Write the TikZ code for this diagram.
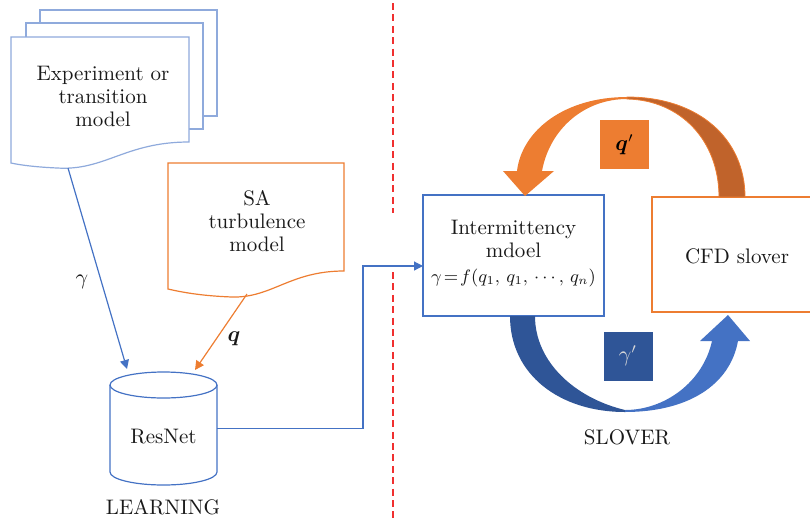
\documentclass[tikz,border=0pt]{standalone}
\usepackage{bm}
\usetikzlibrary{arrows.meta}
\definecolor{bline}{HTML}{4472C4}
\definecolor{dline}{HTML}{8FAADC}
\definecolor{oline}{HTML}{ED7D31}
\definecolor{odark}{HTML}{C0632B}
\definecolor{bdark}{HTML}{2F5597}
\definecolor{redash}{HTML}{F03030}
\tikzset{
  txt/.style={font=\fontsize{10.5}{11.5}\selectfont, align=center, text=black!90, inner sep=0pt},
  docline/.style={draw=dline, line width=0.6pt, fill=white},
  conn/.style={line width=0.6pt, -{Triangle[length=4.5pt,width=4.5pt]}},
  boxb/.style={draw=bline, line width=0.6pt, rectangle, inner sep=0pt},
  labsq/.style={rectangle, inner sep=0pt, minimum size=24.5pt, font=\fontsize{10.5}{11.5}\selectfont}
}
\begin{document}
\begin{tikzpicture}[x=0.5pt,y=-0.5pt]
\useasboundingbox (0,0) rectangle (810,526);
% separator
\draw[redash, line width=1pt, dash pattern=on 3.5pt off 2.2pt] (393,3) -- (393,213);
\draw[redash, line width=1pt, dash pattern=on 3.5pt off 2.2pt] (393,272) -- (393,522);
% document stack
\draw[docline] (40,10) rectangle (217,116);
\draw[docline] (26,23) rectangle (203,129);
\draw[docline] (11,37) -- (189,37) -- (189,142) .. controls (125,142) and (105,171) .. (57,168) .. controls (35,167) and (20,165) .. (11,163) -- cycle;
\node[txt] (exp) at (103,96) {Experiment or\\transition\\model};
\coordinate (expbot) at (68,168);
% SA document
\draw[draw=oline, line width=0.6pt] (168,163) -- (344,163) -- (344,271) .. controls (290,271) and (272,298) .. (232,297) .. controls (205,296) and (185,293) .. (168,289) -- cycle;
\node[txt] (sa) at (257,221) {SA\\turbulence\\model};
\coordinate (sabot) at (247,294);
% cylinder
\draw[bline, line width=0.6pt] (110,385) -- (110,472) arc[start angle=180, end angle=0, x radius=53.5, y radius=13] -- (217,385);
\draw[bline, line width=0.6pt] (163.5,385) ellipse[x radius=53.5, y radius=13];
\node[inner sep=0pt, minimum width=53.5pt, minimum height=56.5pt] (resnet) at (163.5,428.5) {};
\node[txt] at (163.5,437) {ResNet};
\coordinate (cyltopa) at (127,369);
\coordinate (cyltopb) at (195,370);
\node[txt] at (163,507) {LEARNING};
% arrows to cylinder
\draw[conn, bline] (expbot) -- (cyltopa);
\draw[conn, oline] (sabot) -- (cyltopb);
\node[txt] at (82,282) {$\gamma$};
\node[txt] at (234,339) {$\bm{q}$};
% intermittency box
\node[boxb, minimum width=90.5pt, minimum height=60.5pt] (imodel) at (513.5,255.5) {};
\node[txt] at (513.5,254) {Intermittency\\mdoel\\[1pt]{\small$\gamma\!=\!f(q_1,\,q_1,\,\cdots,\,q_n)$}};
\coordinate (iin) at (423,266);
\draw[conn, bline] (resnet.east) -| (363,266) -- (iin);
% CFD box
\node[rectangle, draw=oline, line width=0.6pt, minimum width=85pt, minimum height=57.5pt] (cfd) at (737,254.5) {};
\node[txt] at (737,256) {CFD slover};
% orange curved arrow
\fill[odark, draw=oline, line width=0.4pt] (627,97) .. controls (700,97) and (745,140) .. (745,197) -- (719,197) .. controls (719,140) and (680,100) .. (627,99) -- cycle;
\fill[oline] (627,97) .. controls (565,97) and (522,130) .. (517,171) -- (503,171) -- (525,196) -- (554,171) -- (542,171) .. controls (550,128) and (585,99) .. (627,99) -- cycle;
\node[labsq, fill=oline] (qp) at (624.5,144.5) {$\bm{q}'$};
% blue curved arrow
\fill[bdark] (510,316) .. controls (510,375) and (560,412) .. (625,412) -- (625,410) .. controls (575,398) and (535,362) .. (535,316) -- cycle;
\fill[bline] (625,412) .. controls (688,412) and (730,385) .. (738,341) -- (750,341) -- (728,315) -- (700,341) -- (712,341) .. controls (703,382) and (665,410) .. (625,410) -- cycle;
\node[labsq, fill=bdark, text=black!15] (gp) at (628,356) {$\gamma'$};
\node[txt] at (627,437) {SLOVER};
\end{tikzpicture}
\end{document}
